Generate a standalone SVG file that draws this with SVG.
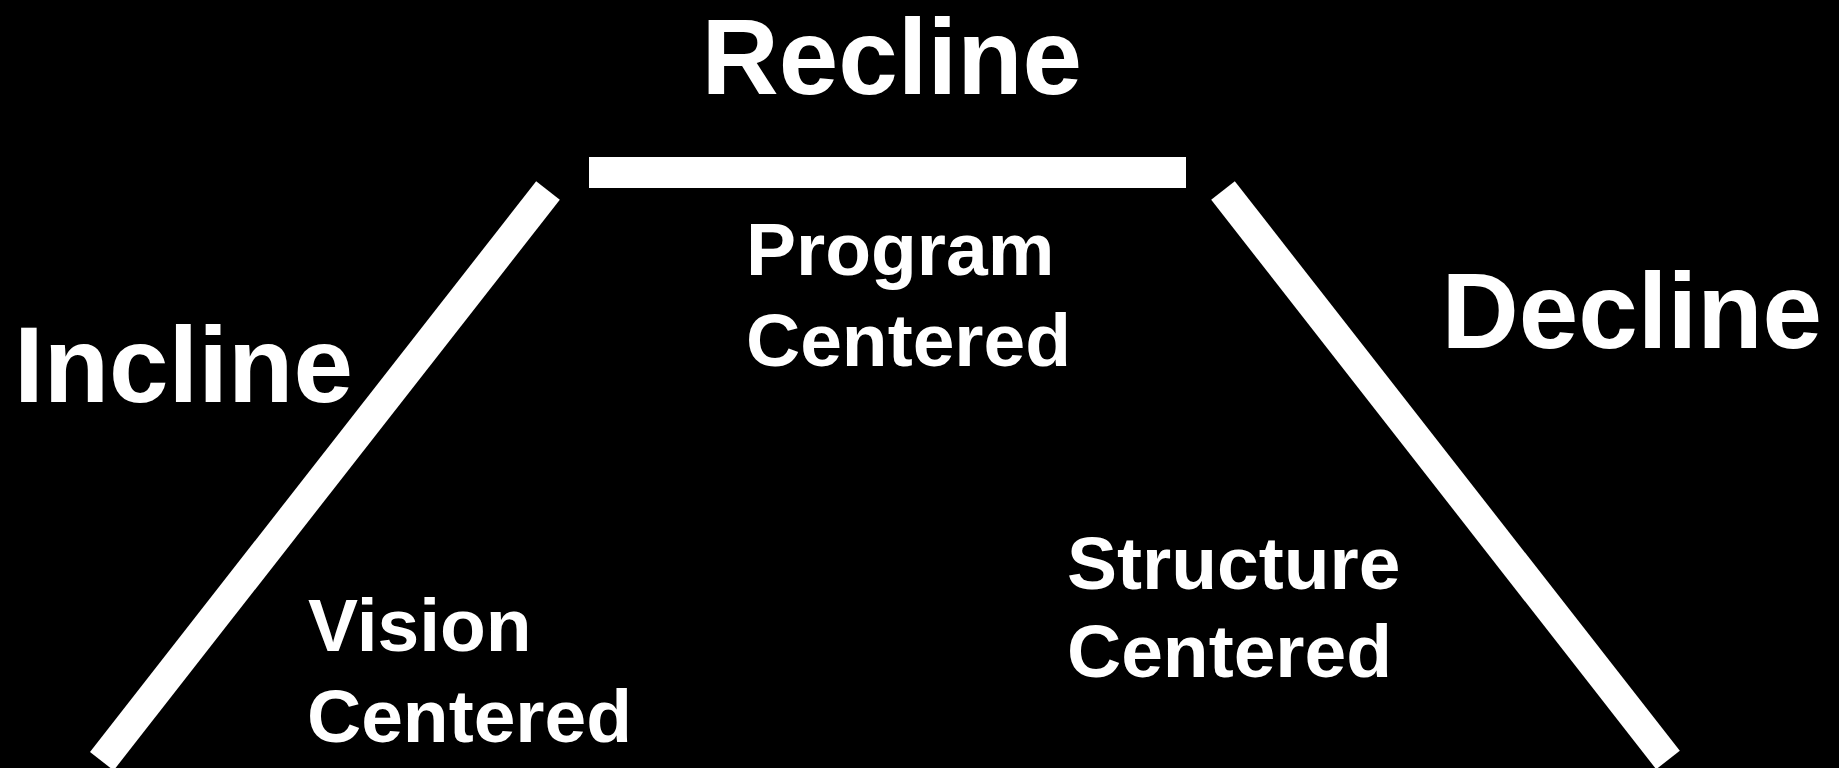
<svg xmlns="http://www.w3.org/2000/svg" width="1839" height="768" viewBox="0 0 1839 768">
<style>
.big{font-family:"Liberation Sans",Arial,sans-serif;font-weight:bold;font-size:107px;fill:#fff}
.lbl{font-family:"Liberation Sans",Arial,sans-serif;font-weight:bold;font-size:75px;fill:#fff}
.bar{stroke:#fff;stroke-width:30;stroke-linecap:butt;fill:none}
</style>
<rect x="0" y="0" width="1839" height="768" fill="#000"/>
<g id="connectors">
<rect x="589" y="157" width="597" height="31" fill="#fff"/>
<line class="bar" x1="548" y1="190.5" x2="101.8" y2="761.2"/>
<line class="bar" x1="1223" y1="190.5" x2="1668" y2="760"/>
</g>
<g id="recline"><text class="big" x="701.5" y="93.5">Recline</text></g>
<g id="incline"><text class="big" x="14" y="401.7">Incline</text></g>
<g id="decline"><text class="big" x="1441.5" y="348.3">Decline</text></g>
<g id="program"><text class="lbl" x="746" y="275">Program</text><text class="lbl" x="746" y="365.7">Centered</text></g>
<g id="vision"><text class="lbl" x="308" y="651">Vision</text><text class="lbl" x="307" y="741.7">Centered</text></g>
<g id="structure"><text class="lbl" x="1067" y="589">Structure</text><text class="lbl" x="1067" y="677">Centered</text></g>
</svg>
